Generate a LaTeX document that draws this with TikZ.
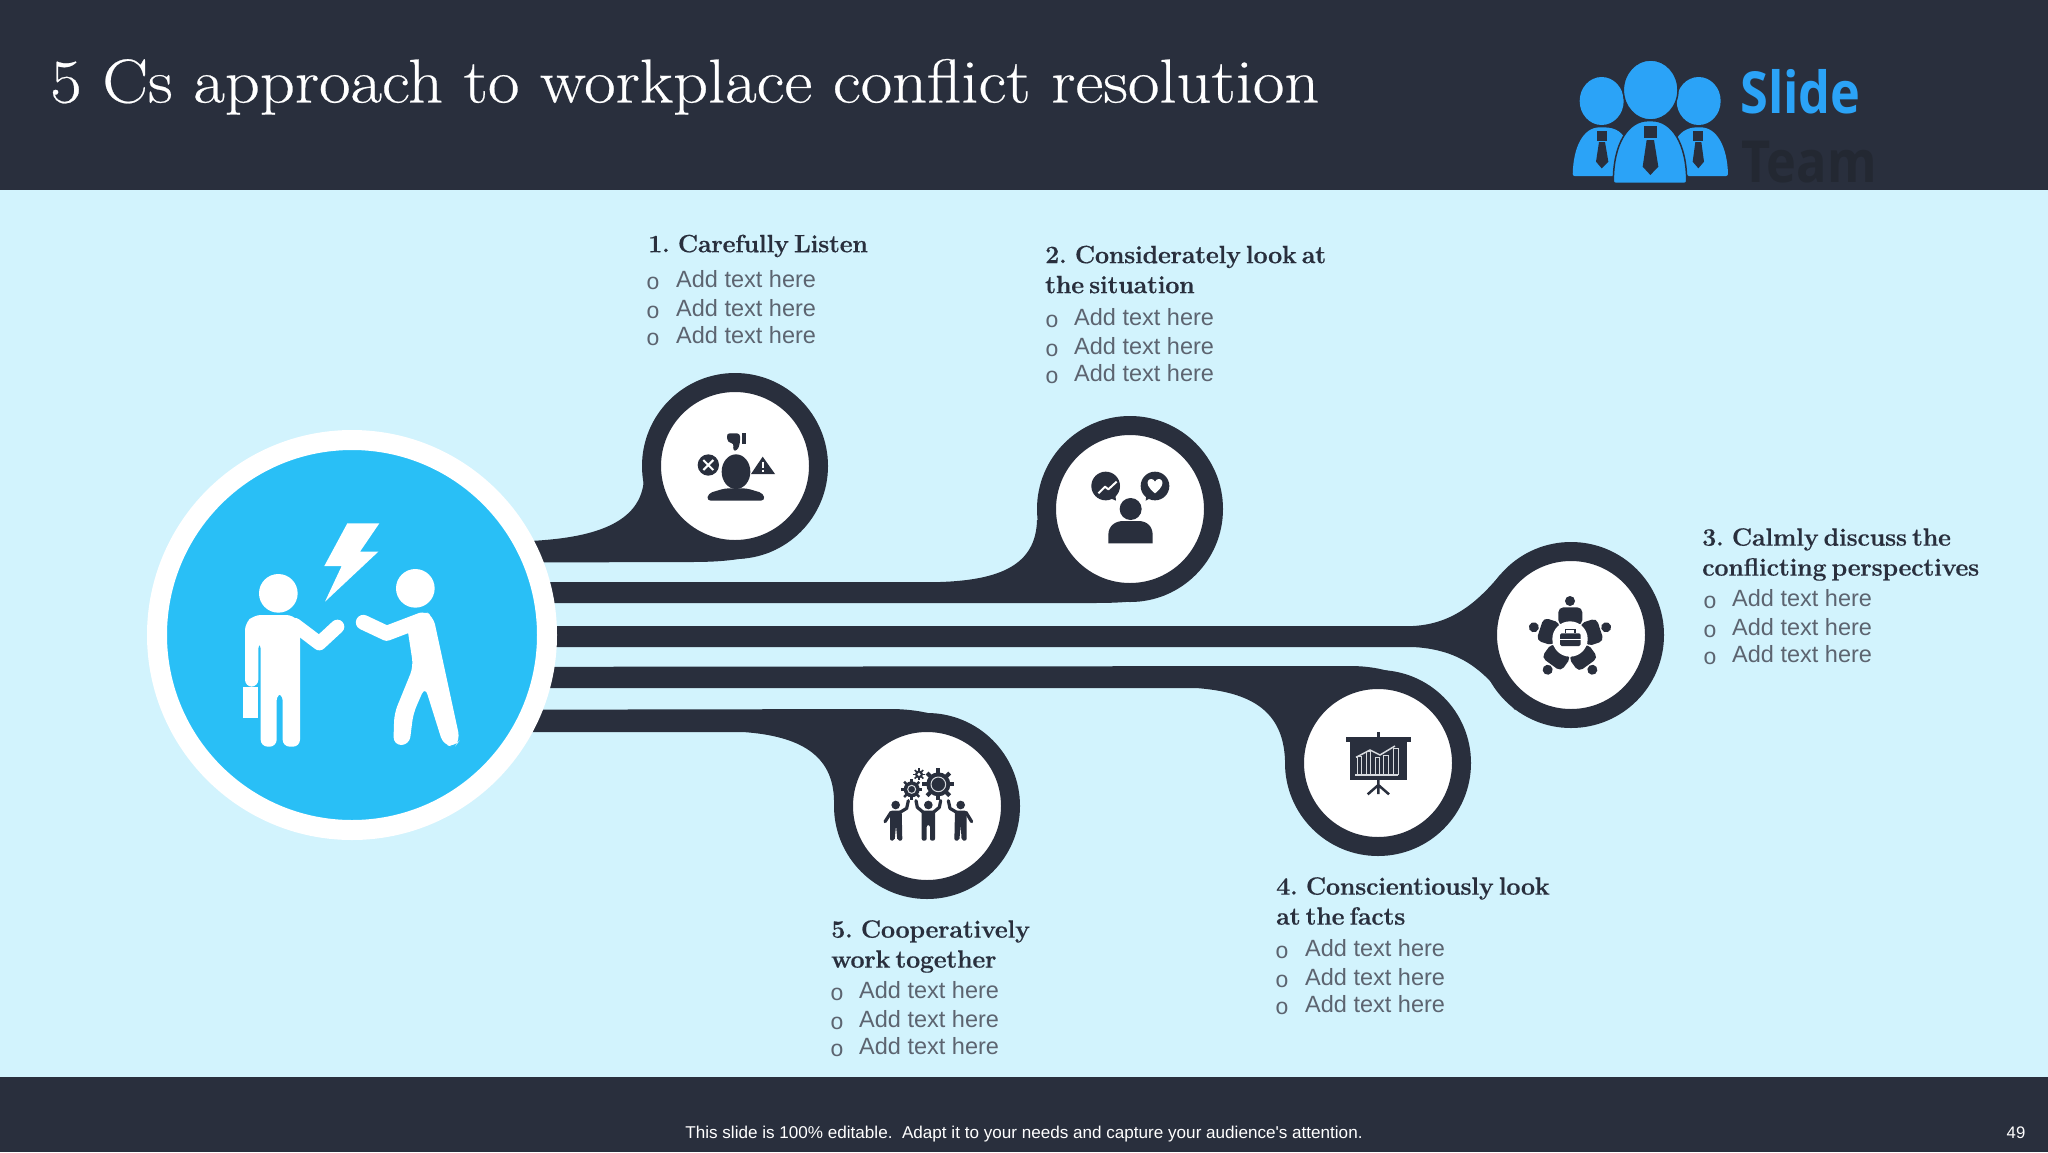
\documentclass[tikz,border=0pt]{standalone}
\usepackage{fontspec}
\newfontfamily\arialf{Liberation Sans}
\newfontfamily\monof{Liberation Mono}
\newfontfamily\logof[FakeStretch=0.87]{Open Sans}
\newfontfamily\titlef[FakeStretch=1.105,FakeBold=0.4]{Latin Modern Roman}
\newfontfamily\headf[LetterSpace=-1,WordSpace=0.55,FakeBold=0.5]{Latin Modern Roman}
\definecolor{navy}{RGB}{41,47,61}
\definecolor{teamc}{RGB}{35,40,50}
\definecolor{bgc}{RGB}{210,243,253}
\definecolor{hubc}{RGB}{41,191,246}
\definecolor{logoc}{RGB}{43,163,247}
\definecolor{bodyc}{RGB}{92,100,112}
\definecolor{linec}{RGB}{215,218,222}
\tikzset{
  bubble/.style={circle,fill=white,draw=navy,line width=19pt,minimum size=167pt,inner sep=0pt},
  band/.style={fill=navy,draw=none},
  headtxt/.style={anchor=north west,inner sep=0pt,align=left,text=navy,font=\headf\fontsize{25}{30}\selectfont\bfseries},
  itemtxt/.style={anchor=base west,inner sep=0pt,text=bodyc,font=\arialf\fontsize{23.5}{28}\selectfont},
  bullettxt/.style={anchor=base west,inner sep=0pt,text=bodyc,font=\monof\fontsize{23}{28}\selectfont},
  zoomed/.style={x=0.33333pt,y=-0.33333pt},
  limb/.style={draw=navy,line cap=round,line join=round},
  wlimb/.style={draw=white,line cap=round,line join=round},
}
\newcommand{\addlist}[4]{% name, bullet x, text x, first baseline
  \foreach \n/\dy in {1/0,2/28.5,3/56}{
    \node[bullettxt] (#1b\n) at (#2,#4+\dy+2) {o};
    \node[itemtxt] (#1t\n) at (#3,#4+\dy) {Add text here};
  }}
\begin{document}
\begin{tikzpicture}[x=1pt,y=-1pt]
\useasboundingbox (0,0) rectangle (2048,1152);
\fill[bgc] (0,0) rectangle (2048,1152);
\fill[navy] (0,0) rectangle (2048,190);
\fill[navy] (0,1077) rectangle (2048,1152);

% bubbles and hub positions
\coordinate (c1) at (735,466);
\coordinate (c2) at (1130,509);
\coordinate (c3) at (1571,635);
\coordinate (c4) at (1378,763);
\coordinate (c5) at (927,806);
\coordinate (hc) at (352,635);

% bands
\fill[band] (352,541) -- (530,541) .. controls (590,538) and (642,525) .. (644,478) -- (c1) -- (770,552) .. controls (740,561) and (715,562) .. (690,562) -- (352,563) -- cycle;
\fill[band] (352,582) -- (940,582) .. controls (1000,580) and (1036,565) .. (1037,520) -- (c2) -- (1165,595) .. controls (1140,603) and (1110,603) .. (1090,603) -- (352,603) -- cycle;
\fill[band] (352,626) -- (1413,626) .. controls (1450,624) and (1475,605) .. (1500,575) -- (c3) -- (1515,710) .. controls (1490,680) and (1470,650) .. (1413,647) -- (352,647) -- cycle;
\fill[band] (352,667) -- (1350,666) .. controls (1420,666) and (1460,710) .. (1470,765) -- (c4) -- (1285,760) .. controls (1283,710) and (1250,692) .. (1196,688) -- (352,688) -- cycle;
\fill[band] (352,710) -- (890,709) .. controls (960,709) and (1005,745) .. (1020,806) -- (c5) -- (834,800) .. controls (833,755) and (800,736) .. (743,732) -- (352,732) -- cycle;

\node[circle,fill=hubc,draw=white,line width=20pt,minimum size=390pt,inner sep=0pt] (hub) at (hc) {};
\node[bubble] (b1) at (c1) {};
\node[bubble] (b2) at (c2) {};
\node[bubble] (b3) at (c3) {};
\node[bubble] (b4) at (c4) {};
\node[bubble] (b5) at (c5) {};

% hub figures
\begin{scope}[shift={(130,420)},zoomed]
  \fill[white] (652,310)--(748,310)--(690,395)--(745,395)--(585,545)--(635,438)--(583,438)--cycle;
  \fill[white] (445,520) circle[radius=58];
  \fill[white] (856,505) circle[radius=58];
  \fill[white,rounded corners=7pt] (345,800)--(345,610)--(372,585)--(490,585)--(510,610)--(510,980)--(458,980)--(458,820)--(440,820)--(440,980)--(392,980)--(392,665)--(385,665)--(385,800)--cycle;
  \fill[white] (340,800) rectangle (385,893);
  \draw[wlimb,line width=14pt] (495,615)--(568,670)--(622,620);
  \draw[wlimb,line width=15pt] (875,600)--(770,640)--(700,607);
  \fill[white,rounded corners=8pt] (830,610)--(880,570)--(910,590)--(990,960)--(975,980)--(940,975)--(885,800)--(850,880)--(838,975)--(790,975)--(793,880)--(850,740)--cycle;
\end{scope}

% icon 1
\begin{scope}[shift={(660,410)},zoomed]
  \fill[navy] (245,70) rectangle (257,102);
  \fill[navy,rounded corners=3pt] (200,70)--(240,70)--(240,100)--(232,122)--(218,122)--(222,100)--(203,97)--cycle;
  \fill[navy] (145,165) circle[radius=32];
  \draw[white,line width=2pt] (130,150)--(160,180) (160,150)--(130,180);
  \fill[navy] (308,140)--(345,192)--(273,192)--cycle;
  \draw[white,line width=2.2pt] (308,155)--(308,174) (308,179)--(308,186);
  \fill[navy] (228,185) ellipse[x radius=43,y radius=52];
  \fill[navy,rounded corners=4pt] (140,272)--(145,250)--(195,235)--(260,235)--(310,250)--(315,272)--cycle;
\end{scope}

% icon 2
\begin{scope}[shift={(1040,440)},zoomed]
  \fill[navy] (197,138) circle[radius=43];
  \fill[navy] (200,170)--(228,182)--(225,155)--cycle;
  \draw[white,line width=2pt,line join=round] (175,160)--(195,140)--(205,148)--(230,125);
  \fill[navy] (345,138) circle[radius=43];
  \fill[navy] (340,170)--(317,182)--(320,155)--cycle;
  \fill[white] (345,160) .. controls (300,125) and (335,105) .. (345,125) .. controls (355,105) and (390,125) .. (345,160) -- cycle;
  \fill[navy] (272,207) circle[radius=33];
  \fill[navy] (205,310)--(205,285) .. controls (205,258) and (225,243) .. (250,243) -- (295,243) .. controls (320,243) and (338,258) .. (338,285) -- (338,310) -- cycle;
\end{scope}

% icon 3
\begin{scope}[shift={(1490,570)},zoomed]
  \foreach \a in {0,72,144,216,288}{
    \begin{scope}[rotate around={\a:(240,207)}]
      \fill[navy] (240,93) circle[radius=15];
      \fill[navy,rounded corners=5pt] (205,165)--(205,112)--(277,112)--(277,165)--cycle;
    \end{scope}
  }
  \fill[white] (240,207) circle[radius=53];
  \fill[navy,rounded corners=1.5pt] (210,190) rectangle (272,228);
  \draw[navy,line width=1.5pt] (227,190)--(227,178)--(255,178)--(255,190);
  \draw[white,line width=1pt] (210,208)--(272,208);
\end{scope}

% icon 4
\begin{scope}[shift={(1300,700)},zoomed]
  \fill[navy] (231,95) rectangle (239,110);
  \fill[navy] (137,110) rectangle (333,125);
  \fill[navy] (150,125) rectangle (320,240);
  \draw[navy,line width=2.5pt] (235,240)--(235,282) (235,255)--(203,283) (235,255)--(267,283);
  \foreach \px/\ph in {178/170,205/155,232/172,258/165,287/145}
    \draw[linec,line width=1pt] (\px-7,225)--(\px-7,\ph)--(\px+7,\ph)--(\px+7,225);
  \draw[linec,line width=1.5pt] (168,172)--(210,150)--(240,165)--(285,138);
  \draw[linec,line width=1.5pt] (165,225)--(295,225);
\end{scope}

% icon 5
\begin{scope}[shift={(860,750)},zoomed]
  \fill[navy] (235,103) circle[radius=36];
  \foreach \a in {0,45,...,315} \draw[navy,line width=4pt] (235,103)--++(\a:48);
  \draw[linec,line width=1pt] (235,103) circle[radius=22];
  \fill[navy] (155,118) circle[radius=24];
  \foreach \a in {0,45,...,315} \draw[navy,line width=2.5pt] (155,118)--++(\a:32);
  \draw[linec,line width=1pt] (155,118) circle[radius=12];
  \fill[navy] (177,73) circle[radius=12];
  \foreach \a in {0,45,...,315} \draw[navy,line width=1.6pt] (177,73)--++(\a:18);
  \fill[white] (177,73) circle[radius=5];
  \foreach \hx in {107,205,302} \fill[navy] (\hx,165) circle[radius=13];
  \fill[navy,rounded corners=2pt] (185,182)--(225,182)--(225,272)--(210,272)--(210,225)--(200,225)--(200,272)--(185,272)--cycle;
  \draw[limb,line width=3.2pt] (190,187)--(172,172)--(168,152) (220,187)--(238,172)--(242,152);
  \fill[navy,rounded corners=2pt] (90,182)--(125,182)--(127,272)--(112,272)--(108,225)--(104,272)--(90,272)--cycle;
  \draw[limb,line width=3.2pt] (120,187)--(140,175)--(145,152) (93,187)--(75,215);
  \fill[navy,rounded corners=2pt] (285,182)--(320,182)--(320,272)--(305,272)--(302,225)--(298,272)--(283,272)--cycle;
  \draw[limb,line width=3.2pt] (290,187)--(270,175)--(265,152) (318,187)--(335,215);
\end{scope}

% logo
\begin{scope}[shift={(1500,30)},zoomed]
  \fill[logoc,rounded corners=2pt] (218,438) .. controls (220,350) and (250,292) .. (305,292) .. controls (350,292) and (370,310) .. (380,340) -- (345,438) -- cycle;
  \fill[logoc,rounded corners=2pt] (684,438) .. controls (682,350) and (650,292) .. (596,292) .. controls (560,292) and (535,310) .. (525,340) -- (560,438) -- cycle;
  \fill[logoc] (305,213) ellipse[x radius=66,y radius=72];
  \fill[logoc] (596,213) ellipse[x radius=66,y radius=72];
  \fill[logoc,draw=navy,line width=1.5pt,rounded corners=2pt] (340,460) .. controls (340,340) and (385,272) .. (450,272) .. controls (515,272) and (560,340) .. (560,460) -- cycle;
  \fill[logoc,draw=navy,line width=1.5pt] (452,180) ellipse[x radius=82,y radius=90];
  \fill[navy] (432,287) rectangle (470,325);
  \fill[navy] (440,330)--(462,330)--(475,410)--(451,435)--(428,410)--cycle;
  \fill[navy] (291,302) rectangle (320,332);
  \fill[navy] (297,336)--(315,336)--(325,395)--(305,415)--(288,395)--cycle;
  \fill[navy] (580,302) rectangle (610,332);
  \fill[navy] (586,336)--(604,336)--(612,395)--(595,415)--(578,395)--cycle;
\end{scope}
\node[anchor=base west,inner sep=0pt,text=logoc,font=\logof\fontsize{58}{60}\selectfont\bfseries] (slide) at (1740,113) {Slide};
\node[anchor=base west,inner sep=0pt,text=teamc,font=\logof\fontsize{58}{60}\selectfont\bfseries] (team) at (1741,182) {Team};

% texts
\node[anchor=base west,inner sep=0pt,text=white,font=\titlef\fontsize{62}{70}\selectfont] (title) at (50,102.5) {5 Cs approach to workplace conflict resolution};

\node[headtxt] (h1) at (648,234.5) {1. Carefully Listen};
\addlist{a}{646}{676}{287.5}
\node[headtxt] (h2) at (1045,245.5) {2. Considerately look at\\the situation};
\addlist{d}{1045}{1074}{325.5}
\node[headtxt] (h3) at (1702,528) {3. Calmly discuss the\\conflicting perspectives};
\addlist{g}{1703}{1732}{606.5}
\node[headtxt] (h4) at (1276,877) {4. Conscientiously look\\at the facts};
\addlist{j}{1275}{1305}{956.5}
\node[headtxt] (h5) at (831,920) {5. Cooperatively\\work together};
\addlist{m}{830}{859}{998.5}

\node[anchor=base,inner sep=0pt,text=white,font=\arialf\fontsize{17.1}{20}\selectfont] (foot) at (1024,1138) {This slide is 100\% editable.\ \ Adapt it to your needs and capture your audience's attention.};
\node[anchor=base,inner sep=0pt,text=white,font=\arialf\fontsize{16.7}{20}\selectfont] (page) at (2016,1138) {49};
\end{tikzpicture}
\end{document}
